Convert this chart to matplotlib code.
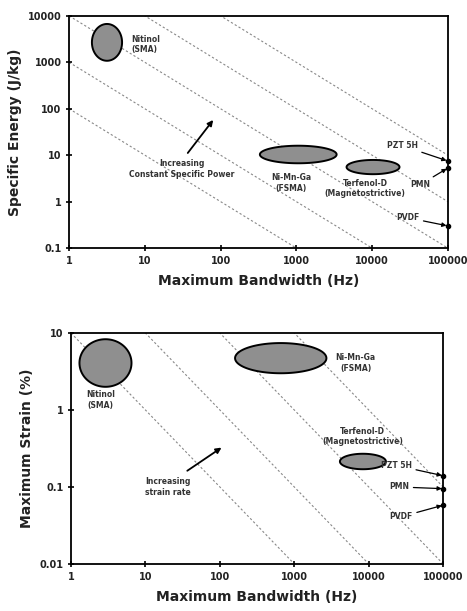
import numpy as np
import matplotlib
matplotlib.use("Agg")
import matplotlib.pyplot as plt
from matplotlib.ticker import FixedLocator, FixedFormatter, NullLocator

# ---- data: top chart (specific energy vs bandwidth) ----
power_lines = [100, 1000, 10000, 1e5, 1e6]          # E*f = const
top_names = ["Nitinol\n(SMA)", "Ni-Mn-Ga\n(FSMA)", "Terfenol-D\n(Magnetostrictive)"]
top_f_lo = [2.0, 330, 4600]
top_f_hi = [5.0, 3400, 23000]
top_e_lo = [1080, 6.7, 3.9]
top_e_hi = [6700, 16, 7.9]
top_lab_x = [6.6, 850, 8100]
top_lab_y = [2400, 2.5, 1.9]
top_pts = ["PZT 5H", "PMN", "PVDF"]
top_pts_e = [7.5, 5.3, 0.3]
top_pts_lab_x = [40000, 58000, 42000]
top_pts_lab_y = [16, 2.3, 0.45]

# ---- data: bottom chart (strain vs bandwidth) ----
rate_lines = [10, 100, 1000, 10000]                 # strain*f = const
bot_f_lo = [1.3, 160, 4100]
bot_f_hi = [6.5, 2700, 17000]
bot_s_lo = [2.0, 3.0, 0.17]
bot_s_hi = [8.3, 7.4, 0.27]
bot_lab_x = [2.5, 6700, 8300]
bot_lab_y = [1.35, 4.1, 0.45]
bot_pts_s = [0.14, 0.095, 0.058]
bot_pts_lab_x = [38000, 35000, 39000]
bot_pts_lab_y = [0.19, 0.1, 0.041]

xticks = [1, 10, 100, 1000, 10000, 100000]
top_yticks = [0.1, 1, 10, 100, 1000, 10000]
bot_yticks = [0.01, 0.1, 1, 10]

plt.rcParams['font.family'] = ['DejaVu Sans']

fig = plt.figure(figsize=(4.67, 6.11), dpi=100)
ax1 = fig.add_axes([0.148, 0.594, 0.811, 0.380])
ax2 = fig.add_axes([0.152, 0.077, 0.797, 0.378])


def log_ellipse(ax, xlo, xhi, ylo, yhi):
    t = np.linspace(0, 2 * np.pi, 200)
    cx = (np.log10(xlo) + np.log10(xhi)) / 2
    rx = (np.log10(xhi) - np.log10(xlo)) / 2
    cy = (np.log10(ylo) + np.log10(yhi)) / 2
    ry = (np.log10(yhi) - np.log10(ylo)) / 2
    ax.fill(10 ** (cx + rx * np.cos(t)), 10 ** (cy + ry * np.sin(t)),
            facecolor="#8f8f8f", edgecolor="black", lw=1.4, zorder=3)


def style(ax, yticks, ylabel):
    ax.set_xscale("log")
    ax.set_yscale("log")
    ax.set_xlim(1, 100000)
    ax.set_ylim(yticks[0], yticks[-1])
    ax.xaxis.set_major_locator(FixedLocator(xticks))
    ax.xaxis.set_major_formatter(FixedFormatter([str(v) for v in xticks]))
    ax.yaxis.set_major_locator(FixedLocator(yticks))
    ax.yaxis.set_major_formatter(FixedFormatter([("%g" % v) for v in yticks]))
    ax.xaxis.set_minor_locator(NullLocator())
    ax.yaxis.set_minor_locator(NullLocator())
    ax.tick_params(labelsize=7, width=1.2, length=4, direction="inout")
    for lab in ax.get_xticklabels() + ax.get_yticklabels():
        lab.set_fontweight("bold")
        lab.set_color("#222222")
    for s in ax.spines.values():
        s.set_linewidth(1.3)
    ax.set_xlabel("Maximum Bandwidth (Hz)", fontsize=10, fontweight="bold", color="#222222", labelpad=6)
    ax.set_ylabel(ylabel, fontsize=10, fontweight="bold", color="#222222")


fx = np.logspace(0, 5, 200)

# top chart
for c in power_lines:
    ax1.plot(fx, c / fx, ls=(0, (2, 2)), color="#888888", lw=0.8, zorder=1)
for i in range(3):
    log_ellipse(ax1, top_f_lo[i], top_f_hi[i], top_e_lo[i], top_e_hi[i])
ax1.text(top_lab_x[0], top_lab_y[0], top_names[0], fontsize=5.5, fontweight="bold",
         ha="left", va="center", color="#333333")
for i in (1, 2):
    ax1.text(top_lab_x[i], top_lab_y[i], top_names[i], fontsize=5.5, fontweight="bold",
             ha="center", va="center", color="#333333")
for i in range(3):
    ax1.plot(100000, top_pts_e[i], "o", color="black", ms=3, clip_on=False, zorder=4)
    ax1.annotate(top_pts[i], xy=(100000, top_pts_e[i]), xytext=(top_pts_lab_x[i], top_pts_lab_y[i]),
                 fontsize=5.5, fontweight="bold", ha="right", va="center", color="#333333",
                 arrowprops=dict(arrowstyle="-|>", color="black", lw=0.9, mutation_scale=6,
                                 shrinkA=1, shrinkB=1))
ax1.annotate("", xy=(84, 64), xytext=(35, 10),
             arrowprops=dict(arrowstyle="-|>", color="black", lw=1.3, mutation_scale=8))
ax1.text(31, 5.0, "Increasing\nConstant Specific Power", fontsize=5.5, fontweight="bold",
         ha="center", va="center", color="#333333")
style(ax1, top_yticks, "Specific Energy (J/kg)")

# bottom chart
for c in rate_lines:
    ax2.plot(fx, c / fx, ls=(0, (2, 2)), color="#888888", lw=0.8, zorder=1)
for i in range(3):
    log_ellipse(ax2, bot_f_lo[i], bot_f_hi[i], bot_s_lo[i], bot_s_hi[i])
    ax2.text(bot_lab_x[i], bot_lab_y[i], top_names[i], fontsize=5.5, fontweight="bold",
             ha="center", va="center", color="#333333")
for i in range(3):
    ax2.plot(100000, bot_pts_s[i], "o", color="black", ms=3, clip_on=False, zorder=4)
    ax2.annotate(top_pts[i], xy=(100000, bot_pts_s[i]), xytext=(bot_pts_lab_x[i], bot_pts_lab_y[i]),
                 fontsize=5.5, fontweight="bold", ha="right", va="center", color="#333333",
                 arrowprops=dict(arrowstyle="-|>", color="black", lw=0.9, mutation_scale=6,
                                 shrinkA=1, shrinkB=1))
ax2.annotate("", xy=(113, 0.34), xytext=(34, 0.155),
             arrowprops=dict(arrowstyle="-|>", color="black", lw=1.3, mutation_scale=8))
ax2.text(20, 0.1, "Increasing\nstrain rate", fontsize=5.5, fontweight="bold",
         ha="center", va="center", color="#333333")
style(ax2, bot_yticks, "Maximum Strain (%)")

fig.savefig("out.png", dpi=100)
